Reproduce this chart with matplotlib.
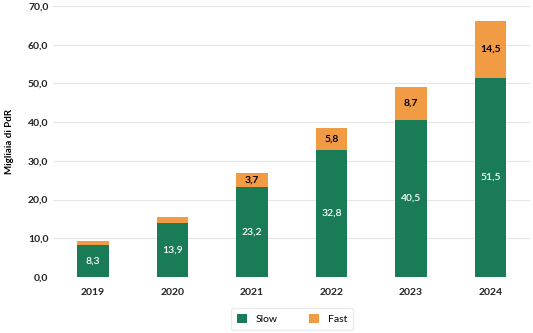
import matplotlib.pyplot as plt
import numpy as np

plt.rcParams['font.family'] = ['Lato', 'DejaVu Sans']

years = ['2019', '2020', '2021', '2022', '2023', '2024']
slow = [8.3, 13.9, 23.2, 32.8, 40.5, 51.5]
fast = [1.0, 1.6, 3.7, 5.8, 8.7, 14.5]
fast_labels = ['', '', '3,7', '5,8', '8,7', '14,5']

green = '#1a7c56'
orange = '#f29b45'

fig = plt.figure(figsize=(5.33, 3.33), dpi=100)
ax = fig.add_axes([0.1, 0.168, 0.895, 0.814])

x = np.arange(len(years))
ax.bar(x, slow, width=0.4, color=green, label='Slow', zorder=3)
ax.bar(x, fast, width=0.4, bottom=slow, color=orange, label='Fast', zorder=3)

for i in range(len(years)):
    ax.text(x[i], slow[i] / 2, '{:.1f}'.format(slow[i]).replace('.', ','),
            ha='center', va='center', color='white', fontsize=7.5, fontweight='semibold', zorder=4)
    if fast_labels[i]:
        ax.text(x[i], slow[i] + fast[i] / 2, fast_labels[i],
                ha='center', va='center', color='black', fontsize=7.5, fontweight='bold', zorder=4)

ax.set_xlim(-0.5, 5.5)
ax.set_ylim(0, 70)
ax.set_yticks(np.arange(0, 71, 10))
ax.set_yticklabels(['{:.1f}'.format(v).replace('.', ',') for v in np.arange(0, 71, 10)])
ax.set_xticks(x)
ax.set_xticklabels(years)
ax.tick_params(axis='both', length=0, labelsize=7.5, colors='#222222')
for lab in ax.get_xticklabels() + ax.get_yticklabels():
    lab.set_fontweight('bold')
ax.tick_params(axis='x', pad=8)
ax.grid(axis='y', color='#e6e6e6', linewidth=0.8, zorder=0)
for s in ax.spines.values():
    s.set_visible(False)
ax.set_ylabel('Migliaia di PdR', fontsize=7, fontweight='bold', labelpad=10)

leg = ax.legend(loc='center', bbox_to_anchor=(0.5, -0.155), ncol=2, fontsize=7.5,
                frameon=True, fancybox=True, edgecolor='#e6e6e6',
                handlelength=1.0, handleheight=1.0, columnspacing=3.0, borderpad=0.6)

plt.savefig('out.png', dpi=100)
